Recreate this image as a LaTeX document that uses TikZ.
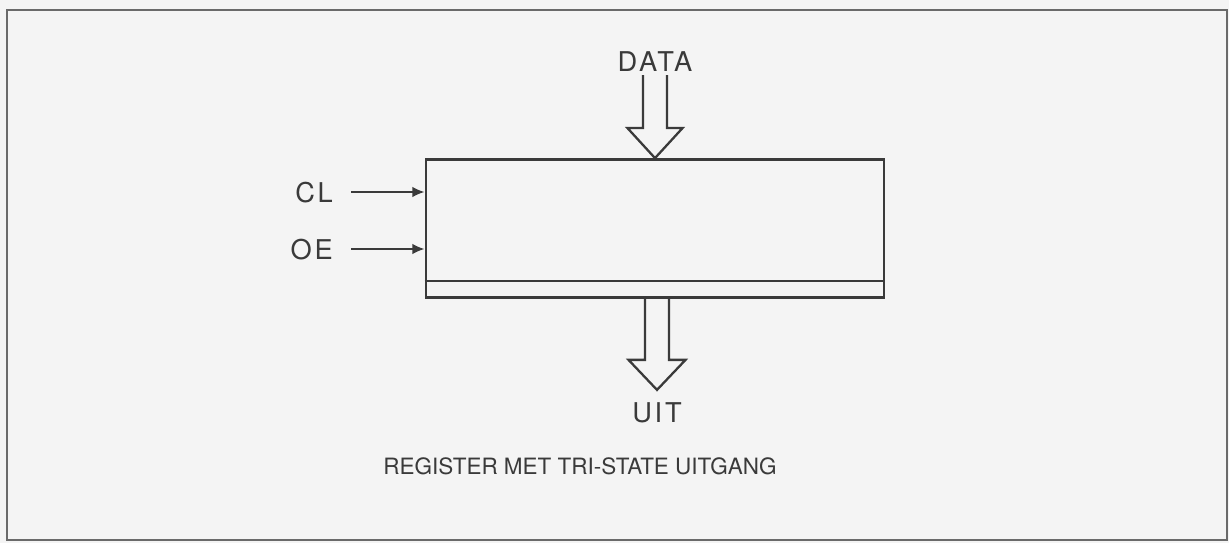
\documentclass[tikz,border=0pt]{standalone}
\usepackage{fontspec}
\setmainfont{TeX Gyre Heros}
\usepackage{xcolor}
\usetikzlibrary{positioning,arrows.meta,calc}
\definecolor{PaperGray}{HTML}{F4F4F4}
\definecolor{InkDark}{HTML}{3A3A3A}
\definecolor{FrameGray}{HTML}{6A6A6A}

\begin{document}
\begin{tikzpicture}[x=0.02cm,y=-0.02cm,
    every node/.style={font=\fontsize{15.5}{18}\selectfont\addfontfeature{LetterSpace=10},
                       text=InkDark},
    regbox/.style={draw=InkDark, line width=1.6pt, minimum width=9.16cm,
                   minimum height=2.76cm, inner sep=0pt},
    busline/.style={draw=InkDark, line width=1.3pt, line join=miter},
    sigline/.style={draw=InkDark, line width=1pt, -{Latex[length=7pt,width=6pt]}}]
      % paper and frame
      \fill[PaperGray] (0,0) rectangle (1229,543);
      \draw[FrameGray, line width=1pt] (7,10) rectangle (1227,540);
      % register
      \node[regbox] (reg) at (655,228.5) {};
      \draw[InkDark, line width=1.2pt]
        ($(reg.south west)+(0,-18)$) -- ($(reg.south east)+(0,-18)$);
      % bus arrows
      \node (data) at (655,62) {DATA};
      \draw[busline] ($(reg.north)+(-12,-83)$) -- ($(reg.north)+(-12,-30)$)
        -- ($(reg.north)+(-27.5,-30)$) -- (reg.north)
        -- ($(reg.north)+(27.5,-30)$) -- ($(reg.north)+(12,-30)$)
        -- ($(reg.north)+(12,-83)$);
      \coordinate (uittip) at ($(reg.south)+(2,91)$);
      \draw[busline] ($(reg.south)+(-10,0)$) -- ($(uittip)+(-12,-30)$)
        -- ($(uittip)+(-28.5,-30)$) -- (uittip)
        -- ($(uittip)+(28.5,-30)$) -- ($(uittip)+(12,-30)$)
        -- ($(reg.south)+(14,0)$);
      \node[below=4pt of uittip] (uit) {UIT};
      % control inputs
      \foreach \y/\name/\lbl in {192/cl/CL, 249/oe/OE}{
        \node[anchor=east] (\name) at (339,\y+1) {\lbl};
        \draw[sigline] (\name.east) ++(12,-1) -- (reg.west |- 0,\y);
      }
      % caption
      \node[font=\fontsize{12.8}{15}\selectfont\addfontfeature{LetterSpace=0}]
        (caption) at (580,466) {REGISTER MET TRI-STATE UITGANG};
\end{tikzpicture}
\end{document}
